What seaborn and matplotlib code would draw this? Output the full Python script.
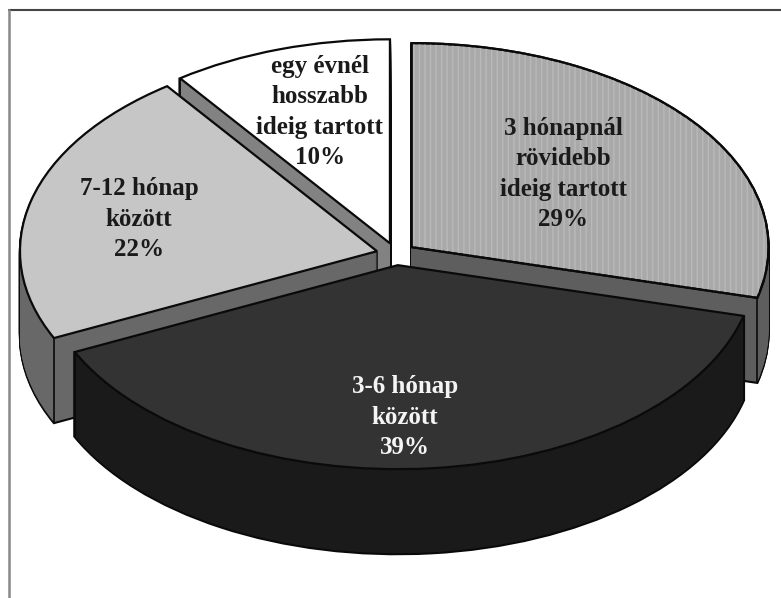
import numpy as np
import matplotlib
matplotlib.use("Agg")
import matplotlib.pyplot as plt
from matplotlib.lines import Line2D
import seaborn as sns

labels = ["3 hónapnál\nrövidebb\nideig tartott", "3-6 hónap\nközött",
          "7-12 hónap\nközött", "egy évnél\nhosszabb\nideig tartott"]
values = [29, 39, 22, 10]
top_colors = ["#a9a9a9", "#333333", "#c6c6c6", "#ffffff"]
side_colors = ["#5e5e5e", "#1a1a1a", "#686868", "#828282"]
text_colors = ["#1a1a1a", "#f4f4f4", "#1a1a1a", "#1a1a1a"]

W, H = 781, 598
CX, CY, RX, RY = 396, 254, 357, 204
DEPTH_PX = 85
EXPLODE = 0.055
draw_rank = [1, 3, 2, 0]          # back-to-front rank of each slice
label_xy = [(563, 174), (405, 417), (139, 219), (320, 112)]

sns.set_theme(style="white")
plt.rcParams["hatch.linewidth"] = 1.0
fig = plt.figure(figsize=(W / 100, H / 100), dpi=100, facecolor="white")
ax = fig.add_axes([0, 0, 1, 1])

explode = [EXPLODE] * len(values)
kw = dict(explode=explode, startangle=90, counterclock=False, radius=1.0)


def layer(depth, colors, z, **wp):
    wedges, _ = ax.pie(values, colors=colors, center=(0, -depth / RY),
                       wedgeprops=wp, **kw)
    for w, r in zip(wedges, draw_rank):
        w.set_zorder(10 * r + z)
    return wedges


# silhouette of the extruded sides, then the side fill
layer(DEPTH_PX, side_colors, 0, edgecolor="#0a0a0a", linewidth=1.6)
for d in range(DEPTH_PX - 1, 0, -1):
    layer(d, side_colors, 1, edgecolor="none", linewidth=0)
    layer(d, side_colors, 0, edgecolor="#0a0a0a", linewidth=1.6)

# top faces
tops = layer(0, top_colors, 3, edgecolor="#0a0a0a", linewidth=1.6)
stripes = layer(0, ["none"] * 4, 4, edgecolor="none", linewidth=0)
stripes[0].set(hatch="|||", edgecolor="#b9b9b9", linewidth=0, fill=False)
for w in stripes[1:]:
    w.remove()
# keep the outline of the hatched slice above its stripes
outline = layer(0, ["none"] * 4, 5, edgecolor="#0a0a0a", linewidth=1.6)
for w in outline[1:]:
    w.remove()

# vertical corner edges of each extruded slice
total = sum(values)
edges = np.cumsum([0] + values) / total * 2 * np.pi
for i in range(len(values)):
    mid = (edges[i] + edges[i + 1]) / 2
    ox, oy = EXPLODE * np.sin(mid), EXPLODE * np.cos(mid)
    for t in (edges[i], edges[i + 1]):
        x, y = ox + np.sin(t), oy + np.cos(t)
        ax.plot([x, x], [y, y - DEPTH_PX / RY], color="#0a0a0a", lw=1.2,
                zorder=10 * draw_rank[i] + 2, solid_capstyle="butt")

ax.set_aspect("auto")
ax.set_xlim(-CX / RX, (W - CX) / RX)
ax.set_ylim((CY - H) / RY, CY / RY)
ax.set_axis_off()

# only the top and left frame lines are visible
fig.add_artist(Line2D([8.5 / W, 1], [1 - 10 / H, 1 - 10 / H], transform=fig.transFigure,
                      color="#444444", linewidth=1.5))
fig.add_artist(Line2D([8.5 / W, 8.5 / W], [0, 1 - 10 / H], transform=fig.transFigure,
                      color="#888888", linewidth=1.8))

for lab, val, (px, py), col in zip(labels, values, label_xy, text_colors):
    ax.text((px - CX) / RX, (CY - py) / RY, f"{lab}\n{val}%", ha="center", va="center",
            color=col, fontsize=18, fontweight="bold", family="Liberation Serif",
            linespacing=1.41, zorder=100)

fig.savefig("out.png", dpi=100)
